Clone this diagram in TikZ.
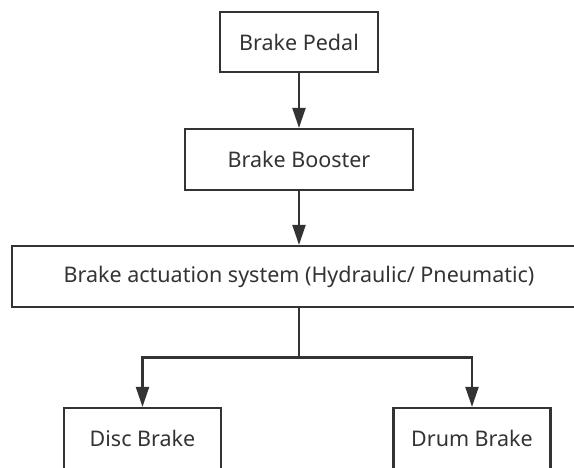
\documentclass[tikz,border=0pt]{standalone}
\usepackage{fontspec}
\setmainfont{Noto Sans}
\usetikzlibrary{arrows.meta}
\definecolor{ink}{HTML}{333333}
\begin{document}
\begin{tikzpicture}[x=1pt,y=-1pt,
  box/.style={draw=ink, line width=2.2pt, text=ink, minimum height=61pt, inner sep=0pt,
    font=\fontsize{21.5}{26}\selectfont},
  conn/.style={draw=ink, line width=2.2pt},
  arr/.style={conn, -{Triangle[length=20pt,width=13pt]}}]
\useasboundingbox (0,0) rectangle (574,467);
\clip (0,0) rectangle (574,467);
\node[box, minimum width=158pt, minimum height=60pt] (pedal) at (299,42) {Brake Pedal};
\node[box, minimum width=228pt] (booster) at (299,159.5) {Brake Booster};
\node[box, minimum width=574pt] (act) at (299,276.5) {Brake actuation system (Hydraulic/ Pneumatic)};
\node[box, minimum width=157pt] (disc) at (142.5,438.5) {Disc Brake};
\node[box, minimum width=157pt] (drum) at (472,438.5) {Drum Brake};
\coordinate (j) at (299,357.5);
\draw[arr] (pedal) -- (booster);
\draw[arr] (booster) -- (act);
\draw[conn] (act) -- (j);
\draw[arr] (j) -| (disc.north);
\draw[arr] (j) -| (drum.north);
\end{tikzpicture}
\end{document}
